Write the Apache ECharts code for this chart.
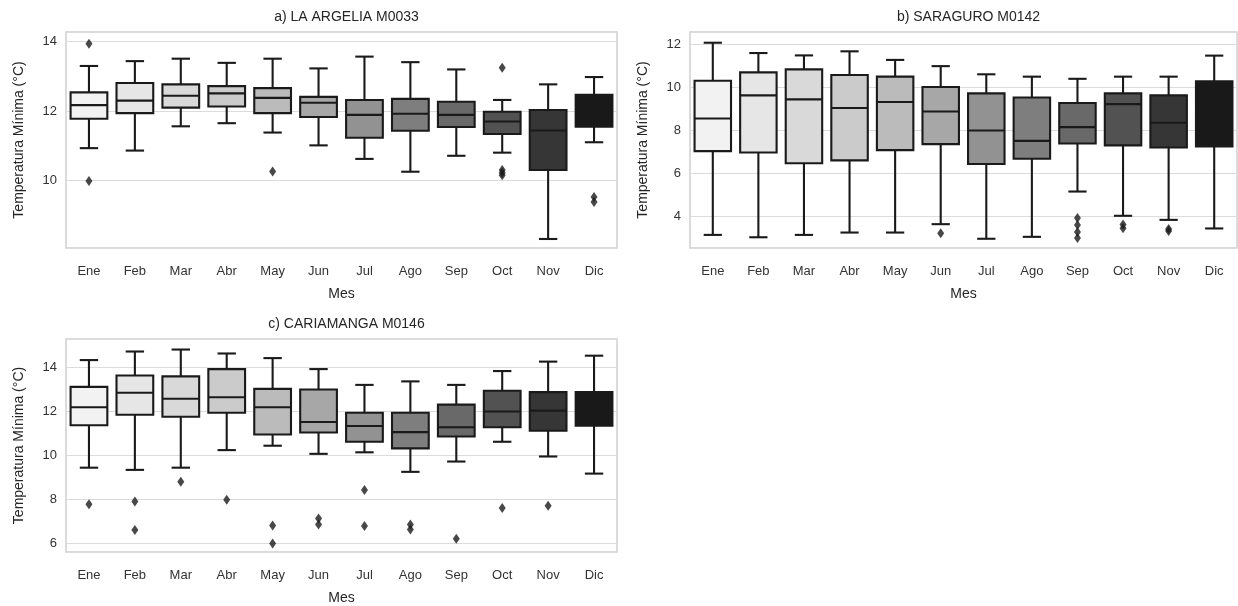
<!DOCTYPE html>
<html>
<head>
<meta charset="utf-8">
<script src="https://cdn.jsdelivr.net/npm/echarts@6/dist/echarts.min.js"></script>
<style>
  html, body { margin: 0; padding: 0; background: #fff; }
  #chart { width: 1238px; height: 606px; }
</style>
</head>
<body>
<div id="chart"></div>
<script>
const months = ["Ene", "Feb", "Mar", "Abr", "May", "Jun", "Jul", "Ago", "Sep", "Oct", "Nov", "Dic"];

// grey palette, light -> dark
const boxColors = ["#f2f2f2", "#e6e6e6", "#d9d9d9", "#cbcbcb", "#bbbbbb", "#a7a7a7",
  "#929292", "#7e7e7e", "#696969", "#525252", "#363636", "#191919"];

// [lower whisker, Q1, median, Q3, upper whisker]
const argeliaBoxes = [
  [10.93, 11.78, 12.17, 12.54, 13.30],
  [10.86, 11.94, 12.30, 12.81, 13.44],
  [11.56, 12.10, 12.44, 12.77, 13.51],
  [11.65, 12.13, 12.51, 12.72, 13.39],
  [11.38, 11.94, 12.38, 12.66, 13.51],
  [11.01, 11.83, 12.24, 12.41, 13.23],
  [10.62, 11.23, 11.89, 12.32, 13.57],
  [10.25, 11.43, 11.92, 12.35, 13.41],
  [10.71, 11.54, 11.89, 12.27, 13.20],
  [10.80, 11.34, 11.70, 11.98, 12.32],
  [8.31, 10.30, 11.44, 12.03, 12.77],
  [11.10, 11.55, 11.87, 12.47, 12.98]
];
const argeliaOutliers = [
  [0, 13.94], [0, 9.98], [4, 10.26], [9, 13.25], [9, 10.30], [9, 10.22], [9, 10.15],
  [11, 9.52], [11, 9.38]
];

const saraguroBoxes = [
  [3.14, 7.04, 8.56, 10.32, 12.09],
  [3.03, 6.98, 9.64, 10.71, 11.61],
  [3.14, 6.48, 9.45, 10.85, 11.50],
  [3.25, 6.61, 9.05, 10.59, 11.69],
  [3.25, 7.09, 9.33, 10.51, 11.29],
  [3.64, 7.37, 8.89, 10.03, 11.00],
  [2.96, 6.44, 8.00, 9.73, 10.62],
  [3.05, 6.69, 7.52, 9.54, 10.51],
  [5.16, 7.40, 8.16, 9.28, 10.41],
  [4.03, 7.31, 9.23, 9.73, 10.51],
  [3.84, 7.21, 8.36, 9.64, 10.51],
  [3.44, 7.26, 8.97, 10.29, 11.49]
];
const saraguroOutliers = [
  [5, 3.22], [8, 3.93], [8, 3.60], [8, 3.28], [8, 3.00], [9, 3.62], [9, 3.45],
  [10, 3.42], [10, 3.32]
];

const cariamangaBoxes = [
  [9.44, 11.37, 12.19, 13.12, 14.34],
  [9.34, 11.85, 12.85, 13.64, 14.73],
  [9.44, 11.76, 12.58, 13.60, 14.82],
  [10.24, 11.94, 12.65, 13.93, 14.64],
  [10.44, 10.95, 12.19, 13.03, 14.43],
  [10.07, 11.04, 11.52, 13.00, 13.93],
  [10.14, 10.62, 11.34, 11.94, 13.21],
  [9.25, 10.32, 11.06, 11.94, 13.37],
  [9.72, 10.86, 11.28, 12.31, 13.21],
  [10.62, 11.28, 12.00, 12.94, 13.84],
  [9.95, 11.12, 12.04, 12.88, 14.27],
  [9.17, 11.35, 12.00, 12.88, 14.54]
];
const cariamangaOutliers = [
  [0, 7.78], [1, 7.90], [1, 6.60], [2, 8.80], [3, 7.98], [4, 6.81], [4, 5.99],
  [5, 7.12], [5, 6.85], [6, 8.42], [6, 6.78], [7, 6.85], [7, 6.62], [8, 6.20],
  [9, 7.60], [10, 7.71]
];

const panels = [
  { title: "a) LA ARGELIA M0033", boxes: argeliaBoxes, outliers: argeliaOutliers, titleTop: 5,
    grid: { left: 66, top: 32, width: 551, height: 216 }, min: 8.05, max: 14.28, split: 3 },
  { title: "b) SARAGURO M0142", boxes: saraguroBoxes, outliers: saraguroOutliers, titleTop: 5,
    grid: { left: 690, top: 32, width: 547, height: 216 }, min: 2.53, max: 12.59, split: 5 },
  { title: "c) CARIAMANGA M0146", boxes: cariamangaBoxes, outliers: cariamangaOutliers, titleTop: 312,
    grid: { left: 66, top: 339, width: 551, height: 218 }, min: 5.6, max: 15.3, split: 5 }
];

const FONT = "'Liberation Sans', Arial, sans-serif";
const TEXT = "#333333";
const EDGE = "#1a1a1a";
const LW = 2.1;

function renderBox(params, api) {
  const i = api.value(0);
  const lo = api.coord([i, api.value(1)]);
  const q1 = api.coord([i, api.value(2)]);
  const md = api.coord([i, api.value(3)]);
  const q3 = api.coord([i, api.value(4)]);
  const hi = api.coord([i, api.value(5)]);
  const bw = api.size([1, 0])[0] * 0.8;
  const cx = lo[0];
  const line = { stroke: EDGE, lineWidth: LW };
  return {
    type: "group",
    children: [
      { type: "line", shape: { x1: cx, y1: q1[1], x2: cx, y2: lo[1] }, style: line },
      { type: "line", shape: { x1: cx, y1: q3[1], x2: cx, y2: hi[1] }, style: line },
      { type: "line", shape: { x1: cx - bw / 4, y1: lo[1], x2: cx + bw / 4, y2: lo[1] }, style: line },
      { type: "line", shape: { x1: cx - bw / 4, y1: hi[1], x2: cx + bw / 4, y2: hi[1] }, style: line },
      { type: "rect", shape: { x: cx - bw / 2, y: q3[1], width: bw, height: q1[1] - q3[1] },
        style: { fill: boxColors[i], stroke: EDGE, lineWidth: LW } },
      { type: "line", shape: { x1: cx - bw / 2, y1: md[1], x2: cx + bw / 2, y2: md[1] }, style: line }
    ]
  };
}

const option = {
  animation: false,
  backgroundColor: "#ffffff",
  textStyle: { fontFamily: FONT, color: TEXT },
  title: panels.map(p => ({
    text: p.title,
    left: p.grid.left + p.grid.width / 2,
    top: p.titleTop,
    textAlign: "center",
    textStyle: { fontFamily: FONT, fontSize: 14, fontWeight: "normal", color: "#262626" }
  })),
  grid: panels.map(p => Object.assign({ show: true, borderColor: "#d0d0d0", borderWidth: 1.5,
    backgroundColor: "#ffffff" }, p.grid)),
  xAxis: panels.map((p, k) => ({
    type: "category",
    gridIndex: k,
    data: months,
    name: "Mes",
    nameLocation: "middle",
    nameGap: 39,
    nameTextStyle: { fontSize: 14, color: "#262626", fontFamily: FONT },
    axisLine: { show: false },
    axisTick: { show: false },
    axisLabel: { fontSize: 13, color: TEXT, margin: 17, fontFamily: FONT },
    splitLine: { show: false }
  })),
  yAxis: panels.map((p, k) => ({
    type: "value",
    gridIndex: k,
    min: p.min,
    max: p.max,
    splitNumber: p.split,
    name: "Temperatura Mínima (°C)",
    nameLocation: "middle",
    nameGap: 40,
    nameTextStyle: { fontSize: 14, color: "#262626", fontFamily: FONT },
    axisLine: { show: false },
    axisTick: { show: false },
    axisLabel: { fontSize: 13, color: TEXT, margin: 9, showMinLabel: false, showMaxLabel: false, fontFamily: FONT },
    splitLine: { show: true, lineStyle: { color: "#dcdcdc", width: 1.2 } }
  })),
  series: panels.flatMap((p, k) => [
    {
      type: "custom",
      xAxisIndex: k,
      yAxisIndex: k,
      renderItem: renderBox,
      encode: { x: 0, y: [1, 2, 3, 4, 5] },
      data: p.boxes.map((b, i) => [i].concat(b)),
      z: 3
    },
    {
      type: "scatter",
      xAxisIndex: k,
      yAxisIndex: k,
      symbol: "diamond",
      symbolSize: [7, 10],
      itemStyle: { color: "#1a1a1a" },
      data: p.outliers,
      z: 4
    }
  ])
};

const chart = echarts.init(document.getElementById("chart"), null, { renderer: "canvas" });
chart.setOption(option);
</script>
</body>
</html>
